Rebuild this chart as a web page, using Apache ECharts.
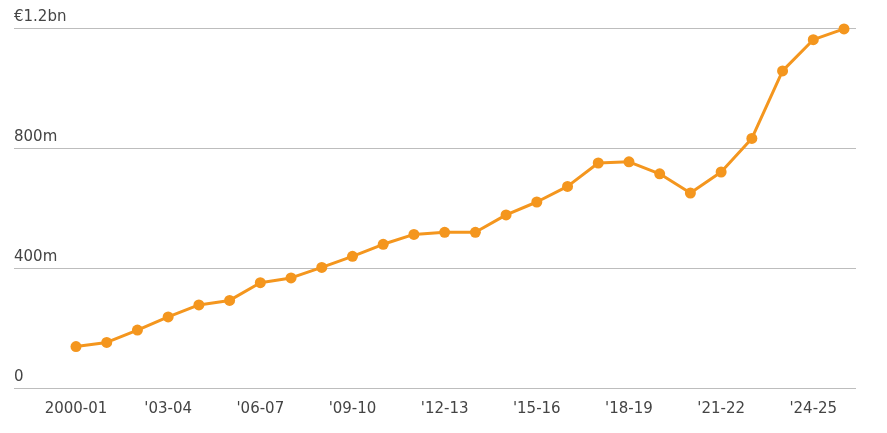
<!DOCTYPE html>
<html>
<head>
<meta charset="utf-8">
<script src="https://cdn.jsdelivr.net/npm/echarts@6/dist/echarts.min.js"></script>
<style>
html,body{margin:0;padding:0;background:#fff;}
#chart{width:887px;height:433px;}
</style>
</head>
<body>
<div id="chart"></div>
<script>
var seasons = ["2000-01","'01-02","'02-03","'03-04","'04-05","'05-06","'06-07","'07-08","'08-09","'09-10","'10-11","'11-12","'12-13","'13-14","'14-15","'15-16","'16-17","'17-18","'18-19","'19-20","'20-21","'21-22","'22-23","'23-24","'24-25","'25-26"];
var revenue = [138,152,193,237,277,292,351,367,402,439,479,512,519,519,577,620,672,750,754,714,650,720,832,1057,1161,1197];
var yTicks = [0,400,800,1200];
var yTickLabels = ["0","400m","800m","€1.2bn"];

var chart = echarts.init(document.getElementById('chart'));
var font = 'DejaVu Sans';
chart.setOption({
  animation:false,
  grid:[
    {left:14,right:31,top:28,bottom:45},
    {left:76,right:43,top:28,bottom:45}
  ],
  xAxis:[
    {gridIndex:0,type:'value',min:0,max:1,show:false},
    {gridIndex:1,type:'category',data:seasons,boundaryGap:false,
     axisLine:{show:false},axisTick:{show:false},
     axisLabel:{interval:2,color:'#444',fontFamily:font,fontSize:15,margin:14}}
  ],
  yAxis:[
    {gridIndex:0,type:'value',min:0,max:1200,interval:400,
     axisLine:{show:false},axisTick:{show:false},
     splitLine:{lineStyle:{color:'#bdbdbd',width:1}},
     axisLabel:{inside:true,align:'left',verticalAlign:'bottom',margin:0,padding:[0,0,3,0],
       color:'#444',fontFamily:font,fontSize:15,
       formatter:function(v){var i=yTicks.indexOf(v);return i>=0?yTickLabels[i]:'';}}},
    {gridIndex:1,type:'value',min:0,max:1200,show:false,splitLine:{show:false}}
  ],
  series:[{
    type:'line',xAxisIndex:1,yAxisIndex:1,data:revenue,
    symbol:'circle',symbolSize:11,
    lineStyle:{color:'#F4961E',width:3},
    itemStyle:{color:'#F4961E'}
  }]
});
</script>
</body>
</html>
